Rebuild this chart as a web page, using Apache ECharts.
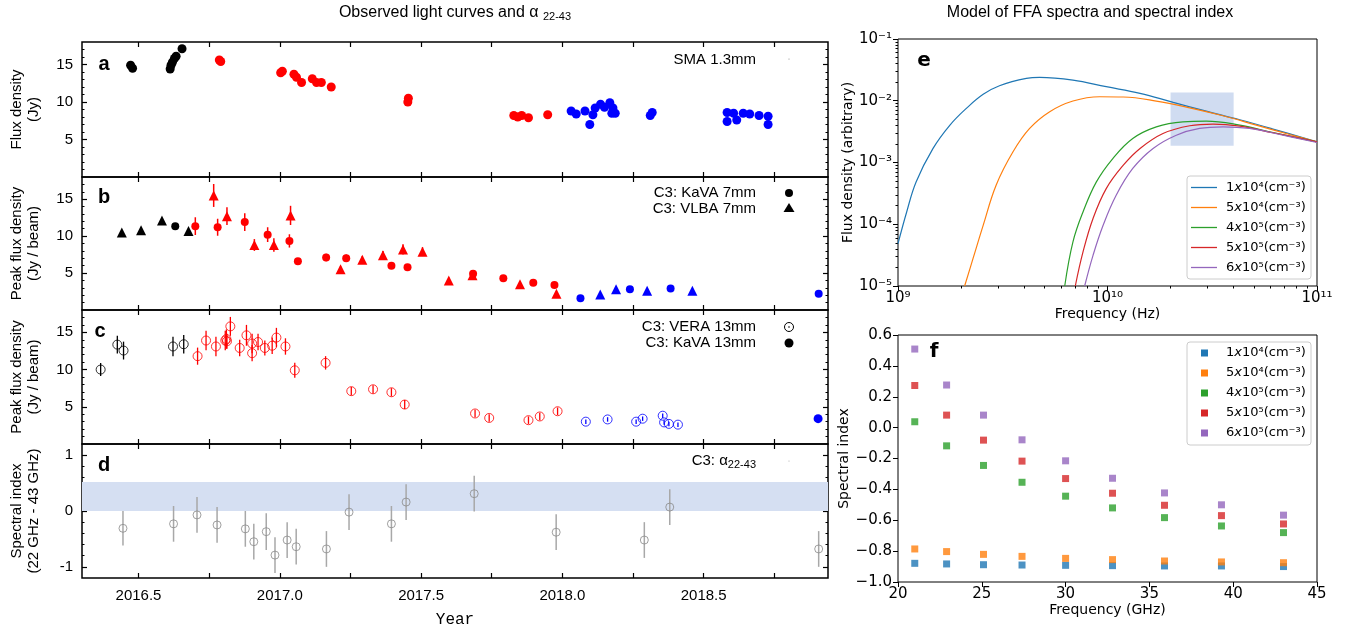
<!DOCTYPE html>
<html><head><meta charset="utf-8">
<script src="https://cdn.jsdelivr.net/npm/echarts@6/dist/echarts.min.js"></script>
<style>html,body{margin:0;padding:0;background:#fff}#c{width:1349px;height:631px}</style>
</head><body><div id="c"></div>
<script>
// ---------------- DATA ----------------
// Year ticks / labels (left panels)
const yearTicks = [2016.5, 2016.75, 2017.0, 2017.25, 2017.5, 2017.75, 2018.0, 2018.25, 2018.5, 2018.75];
const yearLabels = [2016.5, 2017.0, 2017.5, 2018.0, 2018.5];

// Panel a: SMA 1.3mm flux density [year, Jy]
const smaBlack = [[2016.472,14.9],[2016.479,14.5],[2016.612,14.4],[2016.615,14.9],[2016.620,15.3],[2016.627,15.8],[2016.633,16.1],[2016.654,17.1]];
const smaRed = [[2016.786,15.6],[2016.791,15.4],[2017.003,13.9],[2017.009,14.1],[2017.050,13.7],[2017.059,13.3],[2017.077,12.6],[2017.115,13.1],[2017.130,12.6],[2017.147,12.6],[2017.182,12.0],[2017.455,10.5],[2017.453,10.0],[2017.828,8.2],[2017.842,8.0],[2017.856,8.2],[2017.880,7.9],[2017.948,8.3]];
const smaBlue = [[2018.031,8.8],[2018.049,8.4],[2018.080,8.8],[2018.097,7.0],[2018.108,8.3],[2018.116,9.2],[2018.135,9.7],[2018.149,9.3],[2018.168,9.9],[2018.179,9.2],[2018.175,8.5],[2018.187,8.5],[2018.311,8.2],[2018.318,8.6],[2018.583,8.6],[2018.583,7.4],[2018.606,8.5],[2018.617,7.6],[2018.640,8.5],[2018.663,8.4],[2018.696,8.2],[2018.728,8.1],[2018.728,7.0]];

// Panel b: C3 peak flux 7mm [year, Jy/beam, error]
const kava7Black = [[2016.630,11.35,0]];
const kava7Red = [[2016.701,11.35,1.2],[2016.780,11.2,1.15],[2016.876,11.9,1.2],[2016.957,10.2,1.0],[2017.034,9.35,0.9],[2017.064,6.6,0.4],[2017.164,7.1,0.5],[2017.235,7.0,0.5],[2017.395,6.0,0.4],[2017.452,5.8,0.4],[2017.684,4.9,0.3],[2017.791,4.3,0.3],[2017.897,3.7,0.3],[2017.972,3.4,0.3]];
const kava7Blue = [[2018.064,1.6,0.2],[2018.239,2.8,0.2],[2018.383,2.9,0.2],[2018.907,2.2,0.2]];
const vlba7Black = [[2016.441,10.5,0],[2016.509,10.8,0],[2016.583,12.1,0],[2016.677,10.7,0]];
const vlba7Red = [[2016.766,15.5,1.55],[2016.813,12.7,1.2],[2016.910,8.8,0.8],[2016.979,8.8,0.9],[2017.038,12.8,1.3],[2017.215,5.5,0.4],[2017.292,6.8,0.5],[2017.365,7.4,0.6],[2017.436,8.2,0.7],[2017.505,7.9,0.6],[2017.598,4.0,0.4],[2017.682,4.7,0.3],[2017.850,3.5,0.3],[2017.979,2.2,0.3]];
const vlba7Blue = [[2018.134,2.1,0.2],[2018.190,2.8,0.2],[2018.300,2.6,0.2],[2018.460,2.6,0.2]];

// Panel c: C3 peak flux 13mm [year, Jy/beam, error]
const vera13Black = [[2016.366,10.0,0.87],[2016.425,13.35,1.2],[2016.447,12.55,1.2],[2016.622,13.1,1.3],[2016.660,13.4,1.25]];
const vera13Red = [[2016.709,11.8,1.15],[2016.739,13.9,1.3],[2016.774,13.1,1.3],[2016.807,13.9,1.3],[2016.811,14.1,1.3],[2016.813,13.8,1.0],[2016.825,15.8,1.27],[2016.858,12.9,1.1],[2016.882,14.6,1.4],[2016.902,13.5,1.3],[2016.902,12.2,1.1],[2016.923,13.7,1.1],[2016.947,12.9,1.0],[2016.973,13.2,1.1],[2016.988,14.3,1.3],[2017.020,13.1,1.1],[2017.053,9.9,1.0],[2017.162,10.9,0.9],[2017.253,7.1,0.55],[2017.330,7.35,0.55],[2017.395,6.95,0.55],[2017.442,5.3,0.6],[2017.691,4.1,0.5],[2017.741,3.5,0.5],[2017.880,3.2,0.5],[2017.920,3.7,0.5],[2017.983,4.4,0.5]];
const vera13Blue = [[2018.083,3.0,0.3],[2018.160,3.3,0.3],[2018.261,3.0,0.3],[2018.284,3.4,0.3],[2018.355,3.8,0.3],[2018.360,2.9,0.3],[2018.377,2.7,0.3],[2018.409,2.6,0.3]];
const kava13Blue = [[2018.905,3.4,0]];

// Panel d: spectral index 22-43 GHz [year, alpha, error]
const alpha2243 = [[2016.445,-0.31,0.31],[2016.624,-0.23,0.32],[2016.707,-0.07,0.32],[2016.778,-0.25,0.32],[2016.878,-0.32,0.32],[2016.908,-0.55,0.32],[2016.952,-0.37,0.33],[2016.983,-0.79,0.32],[2017.026,-0.52,0.32],[2017.058,-0.64,0.32],[2017.165,-0.68,0.32],[2017.245,-0.02,0.32],[2017.395,-0.23,0.32],[2017.447,0.16,0.32],[2017.688,0.31,0.32],[2017.978,-0.38,0.32],[2018.290,-0.52,0.32],[2018.380,0.07,0.32],[2018.907,-0.68,0.32]];
const alphaBand = [0, 0.52];

// Panel e: FFA model spectra, frequency (GHz) and flux density (arbitrary)
const densNames = ['1x10⁴(cm⁻³)','5x10⁴(cm⁻³)','4x10⁵(cm⁻³)','5x10⁵(cm⁻³)','6x10⁵(cm⁻³)'];
const eFreq1e4 = [1.00,1.10,1.22,1.47,1.77,2.12,2.55,3.05,4.10,4.74,6.84,9.86,14.3,20.6,29.6,42.8,61.7,100];
const eFlux1e4 = [4.85e-5,1.58e-4,4.85e-4,1.69e-3,4.03e-3,7.52e-3,1.27e-2,1.75e-2,2.30e-2,2.39e-2,2.16e-2,1.69e-2,1.32e-2,9.40e-3,6.79e-3,4.92e-3,3.48e-3,2.16e-3];
const eFreq5e4 = [2.08,2.28,2.55,2.94,3.54,4.25,5.30,6.84,9.18,11.9,17.1,24.7,35.6,51.3,74.1,100];
const eFlux5e4 = [1.0e-5,2.77e-5,9.6e-5,4.29e-4,1.49e-3,3.56e-3,6.64e-3,9.89e-3,1.16e-2,1.15e-2,9.89e-3,7.69e-3,5.71e-3,4.03e-3,2.84e-3,2.16e-3];
const eFreq4e5 = [6.25,6.84,7.64,8.85,10.6,13.2,17.1,22.9,29.6,42.8,61.7,100];
const eFlux4e5 = [1.0e-5,5.18e-5,1.58e-4,4.85e-4,1.16e-3,2.45e-3,3.78e-3,4.56e-3,4.68e-3,4.03e-3,3.06e-3,2.16e-3];
const eFreq5e5 = [7.02,7.64,8.53,9.86,11.9,14.3,18.4,24.7,31.9,42.8,61.7,100];
const eFlux5e5 = [1.0e-5,3.56e-5,1.24e-4,3.78e-4,9.06e-4,1.69e-3,2.95e-3,3.94e-3,4.19e-3,3.88e-3,3.03e-3,2.16e-3];
const eFreq6e5 = [7.78,8.53,9.53,11.0,13.2,16.5,21.3,27.5,35.6,47.6,66.4,100];
const eFlux6e5 = [1.0e-5,3.14e-5,9.64e-5,2.95e-4,8.0e-4,1.69e-3,2.77e-3,3.56e-3,3.78e-3,3.56e-3,2.84e-3,2.11e-3];
const eBoxGHz = [20, 40];
const eBoxFlux = [1.86e-3, 1.36e-2];

// Panel f: model spectral index vs frequency (GHz)
const fFreq = [21.0, 22.9, 25.1, 27.4, 30.0, 32.8, 35.9, 39.3, 43.0];
const idx1e4 = [-0.879,-0.883,-0.888,-0.890,-0.892,-0.894,-0.896,-0.896,-0.900];
const idx5e4 = [-0.786,-0.803,-0.821,-0.834,-0.847,-0.855,-0.864,-0.870,-0.875];
const idx4e5 = [0.038,-0.118,-0.245,-0.354,-0.444,-0.520,-0.583,-0.637,-0.680];
const idx5e5 = [0.273,0.081,-0.081,-0.217,-0.330,-0.425,-0.503,-0.570,-0.624];
const idx6e5 = [0.509,0.276,0.081,-0.079,-0.215,-0.328,-0.423,-0.500,-0.567];

// Tick values
const fluxMajor = [5, 10, 15];
const fluxMinor = [1,2,3,4,5,6,7,8,9,10,11,12,13,14,15,16,17];
const alphaMajor = [-1, 0, 1];
const alphaMinor = [-1,-0.8,-0.6,-0.4,-0.2,0,0.2,0.4,0.6,0.8,1];
const eXMajor = [1e9, 1e10, 1e11];
const eXMinor = [2e9,3e9,4e9,5e9,6e9,7e9,8e9,9e9,2e10,3e10,4e10,5e10,6e10,7e10,8e10,9e10];
const eYMajor = [1e-5, 1e-4, 1e-3, 1e-2, 1e-1];
const eYMinor = [2e-5,3e-5,4e-5,5e-5,6e-5,7e-5,8e-5,9e-5,2e-4,3e-4,4e-4,5e-4,6e-4,7e-4,8e-4,9e-4,2e-3,3e-3,4e-3,5e-3,6e-3,7e-3,8e-3,9e-3,2e-2,3e-2,4e-2,5e-2,6e-2,7e-2,8e-2,9e-2];

// ---------------- STYLE / LAYOUT ----------------
const FL = 'Liberation Sans, Arial, Helvetica, sans-serif';
const FR = 'DejaVu Sans, sans-serif';
const TAB = ['#1f77b4','#ff7f0e','#2ca02c','#d62728','#9467bd'];
const BLACK = '#000000', RED = '#ff0000', BLUE = '#0000ff';
const YMIN = 2016.30, YMAX = 2018.94;
const leftGrids = [{top:42,height:135},{top:177,height:133},{top:310,height:134},{top:444,height:134}];
const panelY = [
  {min:0,max:18,major:fluxMajor,minor:fluxMinor,name:'Flux density\n(Jy)'},
  {min:0,max:18,major:fluxMajor,minor:fluxMinor,name:'Peak flux density\n(Jy / beam)'},
  {min:0,max:18,major:fluxMajor,minor:fluxMinor,name:'Peak flux density\n(Jy / beam)'},
  {min:-1.2,max:1.2,major:alphaMajor,minor:alphaMinor,name:'Spectral index\n(22 GHz - 43 GHz)'}
];
const NOLINE = {show:false, onZero:false};

const grids = [], xAxes = [], yAxes = [];
const tickLine = {color:'#000', width:1.2};
leftGrids.forEach((g,i)=>{
  grids.push({left:82, width:746, top:g.top, height:g.height, show:true, borderColor:'#000', borderWidth:1.5, backgroundColor:'rgba(0,0,0,0)'});
  const bx = {type:'value', gridIndex:i, min:YMIN, max:YMAX, axisLine:NOLINE, splitLine:{show:false}};
  xAxes.push(Object.assign({}, bx, {position:'bottom',
    axisTick:{inside:true, length:5, customValues:yearTicks, lineStyle:tickLine},
    axisLabel:{show:i===3, customValues:yearLabels, formatter:v=>v.toFixed(1), color:'#000', fontSize:15, fontFamily:FL, margin:10},
    name: i===3 ? 'Year' : '', nameLocation:'middle', nameGap:34,
    nameTextStyle:{fontFamily:'Liberation Mono, Courier New, monospace', fontSize:16, color:'#000'}}));
  xAxes.push(Object.assign({}, bx, {position:'top',
    axisTick:{inside:true, length:5, customValues:yearTicks, lineStyle:tickLine}, axisLabel:{show:false}}));
  const p = panelY[i];
  const by = {type:'value', gridIndex:i, min:p.min, max:p.max, axisLine:NOLINE, splitLine:{show:false}};
  yAxes.push(Object.assign({}, by, {position:'left',
    axisTick:{inside:true, length:5, customValues:p.major, lineStyle:tickLine},
    axisLabel:{customValues:p.major, color:'#000', fontSize:15, fontFamily:FL, margin:9, formatter:v=>String(v)},
    name:p.name, nameLocation:'middle', nameRotate:90, nameGap:40,
    nameTextStyle:{fontFamily:FL, fontSize:15, color:'#000', lineHeight:17, align:'center'}}));
  yAxes.push(Object.assign({}, by, {position:'left',
    axisTick:{inside:true, length:2.5, customValues:p.minor, lineStyle:{color:'#000',width:1}}, axisLabel:{show:false}}));
  yAxes.push(Object.assign({}, by, {position:'right',
    axisTick:{inside:true, length:5, customValues:p.major, lineStyle:tickLine}, axisLabel:{show:false}}));
  yAxes.push(Object.assign({}, by, {position:'right',
    axisTick:{inside:true, length:2.5, customValues:p.minor, lineStyle:{color:'#000',width:1}}, axisLabel:{show:false}}));
});

// superscript helper
const SUP = {'0':'⁰','1':'¹','2':'²','3':'³','4':'⁴','5':'⁵','6':'⁶','7':'⁷','8':'⁸','9':'⁹','-':'⁻'};
const pow10 = v => { const e = Math.round(Math.log10(v)); return '10' + String(e).split('').map(c=>SUP[c]).join(''); };

// grid 4: panel e, grid 5: panel f
grids.push({left:898, width:419, top:39, height:247, show:true, borderColor:'#000', borderWidth:1, backgroundColor:'rgba(0,0,0,0)'});
grids.push({left:898, width:419, top:335, height:247, show:true, borderColor:'#000', borderWidth:1, backgroundColor:'rgba(0,0,0,0)'});
const rTick = {color:'#000', width:1};
// xAxis 8, 9 (e) ; 10 (f)
xAxes.push({type:'log', logBase:10, gridIndex:4, min:1e9, max:1e11, position:'bottom', axisLine:NOLINE, splitLine:{show:false},
  axisTick:{inside:false, length:5, customValues:eXMajor, lineStyle:rTick},
  axisLabel:{customValues:eXMajor, formatter:pow10, color:'#000', fontSize:15, fontFamily:FR, margin:5},
  name:'Frequency (Hz)', nameLocation:'middle', nameGap:20, nameTextStyle:{fontFamily:FR, fontSize:14, color:'#000'}});
xAxes.push({type:'log', logBase:10, gridIndex:4, min:1e9, max:1e11, position:'bottom', axisLine:NOLINE, splitLine:{show:false},
  axisTick:{inside:false, length:2.5, customValues:eXMinor, lineStyle:rTick}, axisLabel:{show:false}});
xAxes.push({type:'value', gridIndex:5, min:20, max:45, interval:5, position:'bottom', axisLine:NOLINE, splitLine:{show:false},
  axisTick:{inside:false, length:5, lineStyle:rTick},
  axisLabel:{color:'#000', fontSize:15, fontFamily:FR, margin:5},
  name:'Frequency (GHz)', nameLocation:'middle', nameGap:20, nameTextStyle:{fontFamily:FR, fontSize:14, color:'#000'}});
// yAxis 16, 17 (e) ; 18 (f)
yAxes.push({type:'log', logBase:10, gridIndex:4, min:1e-5, max:1e-1, position:'left', axisLine:NOLINE, splitLine:{show:false},
  axisTick:{inside:false, length:5, customValues:eYMajor, lineStyle:rTick},
  axisLabel:{customValues:eYMajor, formatter:pow10, color:'#000', fontSize:15, fontFamily:FR, margin:6},
  name:'Flux density (arbitrary)', nameLocation:'middle', nameRotate:90, nameGap:43, nameTextStyle:{fontFamily:FR, fontSize:14, color:'#000'}});
yAxes.push({type:'log', logBase:10, gridIndex:4, min:1e-5, max:1e-1, position:'left', axisLine:NOLINE, splitLine:{show:false},
  axisTick:{inside:false, length:2.5, customValues:eYMinor, lineStyle:rTick}, axisLabel:{show:false}});
yAxes.push({type:'value', gridIndex:5, min:-1.0, max:0.6, interval:0.2, position:'left', axisLine:NOLINE, splitLine:{show:false},
  axisTick:{inside:false, length:5, lineStyle:rTick},
  axisLabel:{color:'#000', fontSize:15, fontFamily:FR, margin:6,
    formatter:v=>Math.abs(v)<1e-9 ? '0.0' : (v<0?'−':'') + Math.abs(v).toFixed(1)},
  name:'Spectral index', nameLocation:'middle', nameRotate:90, nameGap:43, nameTextStyle:{fontFamily:FR, fontSize:14, color:'#000'}});

// ---------------- SERIES ----------------
const series = [];
function errBars(data, xi, yi, color, width, z) {
  series.push({type:'custom', xAxisIndex:xi, yAxisIndex:yi, silent:true, z:z||3,
    data: data.filter(d=>d[2]>0).map(d=>[d[0], d[1]-d[2], d[1]+d[2]]),
    encode:{x:0, y:[1,2]},
    renderItem:(params, api)=>{
      const p1 = api.coord([api.value(0), api.value(1)]);
      const p2 = api.coord([api.value(0), api.value(2)]);
      return {type:'line', shape:{x1:p1[0], y1:p1[1], x2:p2[0], y2:p2[1]}, style:{stroke:color, lineWidth:width}};
    }});
}
function dots(data, xi, yi, color, symbol, size, open, z) {
  series.push({type:'scatter', xAxisIndex:xi, yAxisIndex:yi, symbol:symbol, symbolSize:size, silent:true, z:z||4,
    data: data.map(d=>[d[0], d[1]]),
    itemStyle: open ? {color:'rgba(0,0,0,0)', borderColor:color, borderWidth:1} : {color:color, opacity:1}});
}
// a
dots(smaBlack,0,0,BLACK,'circle',9);
dots(smaRed,0,0,RED,'circle',9);
dots(smaBlue,0,0,BLUE,'circle',9);
// b
[[kava7Black,BLACK,'circle',8],[kava7Red,RED,'circle',8],[kava7Blue,BLUE,'circle',8],
 [vlba7Black,BLACK,'triangle',10],[vlba7Red,RED,'triangle',10],[vlba7Blue,BLUE,'triangle',10]].forEach(s=>{
  errBars(s[0],2,4,s[1],1.5);
  dots(s[0],2,4,s[1],s[2],s[3]);
});
// c
[[vera13Black,BLACK],[vera13Red,RED],[vera13Blue,BLUE]].forEach(s=>{
  errBars(s[0],4,8,s[1],1.3);
  dots(s[0],4,8,s[1],'circle',9,true);
});
dots(kava13Blue,4,8,BLUE,'circle',9);
// d
series.push({type:'line', xAxisIndex:6, yAxisIndex:12, data:[], z:1, silent:true,
  markArea:{silent:true, itemStyle:{color:'#d5dff2', opacity:1}, data:[[{yAxis:alphaBand[0]},{yAxis:alphaBand[1]}]]}});
errBars(alpha2243,6,12,'#a8a8a8',1.5);
dots(alpha2243,6,12,'#8a8a8a','circle',8,true);
// e
const eSets = [[eFreq1e4,eFlux1e4],[eFreq5e4,eFlux5e4],[eFreq4e5,eFlux4e5],[eFreq5e5,eFlux5e5],[eFreq6e5,eFlux6e5]];
eSets.forEach((s,k)=>{
  series.push({type:'line', name:densNames[k], xAxisIndex:8, yAxisIndex:16, showSymbol:false, symbol:'none', smooth:0.4, silent:true,
    data: s[0].map((f,j)=>[f*1e9, s[1][j]]), lineStyle:{color:TAB[k], width:1.2}, itemStyle:{color:TAB[k]}, z:2});
});
series.push({type:'line', xAxisIndex:8, yAxisIndex:16, data:[], z:5, silent:true,
  markArea:{silent:true, itemStyle:{color:'rgba(176,196,232,0.6)'},
    data:[[{coord:[eBoxGHz[0]*1e9, eBoxFlux[1]]},{coord:[eBoxGHz[1]*1e9, eBoxFlux[0]]}]]}});
// f
[idx1e4, idx5e4, idx4e5, idx5e5, idx6e5].forEach((arr,k)=>{
  series.push({type:'scatter', name:densNames[k], xAxisIndex:10, yAxisIndex:18, symbol:'rect', symbolSize:7, silent:true,
    data: fFreq.map((f,j)=>[f, arr[j]]), itemStyle:{color:TAB[k]}, z:3+k});
});

// ---------------- GRAPHICS (titles, labels, legends) ----------------
const G = [];
function txt(x, y, text, o) {
  o = o || {};
  G.push({type:'text', x:x, y:y, rotation:o.rot||0, silent:true, z:100,
    style:{text:text, x:0, y:0, fill:o.color||'#000', fontSize:o.size||15, fontFamily:o.font||FL, fontWeight:o.weight||'normal',
      align:o.align||'center', verticalAlign:o.va||'middle', textAlign:o.align||'center', textVerticalAlign:o.va||'middle', rich:o.rich}});
}
const subRich = (sz)=>({s:{fontSize:sz, fontFamily:FL, fill:'#000', color:'#000', padding:[sz*0.7,0,0,0]}});
txt(455, 13, 'Observed light curves and α {s|22-43}', {size:16, rich:subRich(11)});
txt(1090, 13, 'Model of FFA spectra and spectral index', {size:16});
// panel letters
txt(104, 64, 'a', {size:20, weight:'bold'});
txt(104, 197, 'b', {size:20, weight:'bold'});
txt(100, 331, 'c', {size:20, weight:'bold'});
txt(104, 465, 'd', {size:20, weight:'bold'});
txt(924, 61, 'e', {size:20, weight:'bold', font:FR});
txt(934, 352, 'f', {size:20, weight:'bold', font:FR});
// left panel legends
txt(756, 60, 'SMA 1.3mm', {align:'right'});
txt(756, 193, 'C3: KaVA 7mm', {align:'right'});
txt(756, 209, 'C3: VLBA 7mm', {align:'right'});
txt(756, 327, 'C3: VERA 13mm', {align:'right'});
txt(756, 343, 'C3: KaVA 13mm', {align:'right'});
txt(756, 461, 'C3: α{s|22-43}', {align:'right', rich:subRich(11)});
G.push({type:'circle', shape:{cx:789, cy:193, r:4}, style:{fill:'#000'}, silent:true, z:100});
G.push({type:'polygon', shape:{points:[[789,203],[794.5,212],[783.5,212]]}, style:{fill:'#000'}, silent:true, z:100});
G.push({type:'circle', shape:{cx:789, cy:327, r:4.5}, style:{fill:'none', stroke:'#000', lineWidth:1}, silent:true, z:100});
G.push({type:'circle', shape:{cx:789, cy:327, r:0.8}, style:{fill:'#000'}, silent:true, z:100});
G.push({type:'circle', shape:{cx:789, cy:343, r:4.5}, style:{fill:'#000'}, silent:true, z:100});
G.push({type:'circle', shape:{cx:789, cy:59, r:0.6}, style:{fill:'#888'}, silent:true, z:100});
G.push({type:'circle', shape:{cx:789, cy:461, r:0.6}, style:{fill:'#aaa'}, silent:true, z:100});
// e / f legends
const legRich = {i:{fontStyle:'italic', fontSize:13, fontFamily:FR, fill:'#000', color:'#000'}};
const legLabels = densNames.map(n=>n.replace('x','{i|x}'));
G.push({type:'rect', shape:{x:1187, y:176, width:124, height:103, r:3}, style:{fill:'rgba(255,255,255,0.85)', stroke:'#cccccc', lineWidth:1}, silent:true, z:90});
G.push({type:'rect', shape:{x:1187, y:342, width:124, height:103, r:3}, style:{fill:'rgba(255,255,255,0.85)', stroke:'#cccccc', lineWidth:1}, silent:true, z:90});
legLabels.forEach((l,k)=>{
  const ye = 187.5 + 20*k, yf = 353 + 20*k;
  G.push({type:'line', shape:{x1:1191, y1:ye, x2:1217, y2:ye}, style:{stroke:TAB[k], lineWidth:1.3}, silent:true, z:100});
  txt(1226, ye, l, {align:'left', size:13, font:FR, rich:legRich});
  G.push({type:'rect', shape:{x:1201, y:yf-3.5, width:7, height:7}, style:{fill:TAB[k]}, silent:true, z:100});
  txt(1226, yf, l, {align:'left', size:13, font:FR, rich:legRich});
});

const chart = echarts.init(document.getElementById('c'), null, {renderer:'canvas'});
chart.setOption({
  animation:false,
  backgroundColor:'#ffffff',
  grid:grids, xAxis:xAxes, yAxis:yAxes, series:series, graphic:G
});
</script></body></html>
